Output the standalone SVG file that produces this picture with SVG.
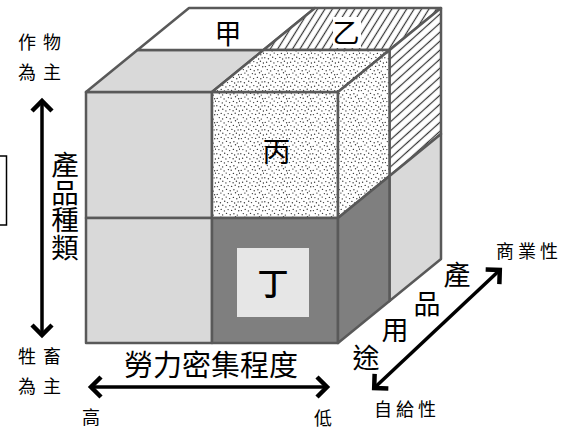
<svg xmlns="http://www.w3.org/2000/svg" width="579" height="430" viewBox="0 0 579 430">
<style>
  .cell { stroke: #595959; stroke-width: 2.5; stroke-linejoin: round; }
  .lg { fill: #d9d9d9; }
  .dg { fill: #7f7f7f; }
  .wh { fill: #ffffff; }
  .dot { fill: url(#dots); }
  .htop { fill: url(#hatchTop); }
  .hside { fill: url(#hatchSide); }
  .t { font-family: "Noto Sans CJK TC", "Noto Sans CJK SC", sans-serif; fill: #000; text-anchor: middle; }
  .big { font-size: 27px; }
  .vert { font-size: 27.5px; writing-mode: vertical-rl; text-anchor: start; }
  .small { font-size: 18px; }
  .axis { stroke: #000; stroke-width: 3.5; fill: none; marker-start: url(#chev); marker-end: url(#chev); }
</style>
<defs>
  <pattern id="dots" patternUnits="userSpaceOnUse" width="24" height="24">
    <rect width="24" height="24" fill="#ffffff"/>
    <path stroke="#3a3a3a" stroke-width="1.4" stroke-linecap="round" fill="none" d="M1.2 2.4h.01M4.9 1.1h.01M8.1 2.9h.01M12.4 1.6h.01M15.2 2.2h.01M19.5 0.8h.01M22.6 2.7h.01M2.9 5.6h.01M6.3 6.9h.01M10.2 5.1h.01M13.6 6.6h.01M17.4 5.4h.01M20.8 6.8h.01M23.6 5.2h.01M0.8 9.7h.01M4.4 10.8h.01M8.7 9.2h.01M11.5 10.6h.01M15.9 9.4h.01M18.6 11h.01M22.1 9.9h.01M2.6 14.3h.01M6.8 13.2h.01M9.9 14.9h.01M13.8 13.6h.01M17.1 14.7h.01M20.4 13.3h.01M23.4 15h.01M1.4 18.6h.01M5.2 17.4h.01M8.4 18.9h.01M12.1 17.6h.01M15.6 18.4h.01M19.2 17.2h.01M22.7 18.7h.01M3.3 21.6h.01M6.6 22.9h.01M10.5 21.4h.01M14.2 22.8h.01M17.9 21.7h.01M21.3 23.1h.01"/>
  </pattern>
  <pattern id="hatchTop" patternUnits="userSpaceOnUse" width="10" height="6.3" patternTransform="rotate(-58)">
    <rect width="10" height="6.3" fill="#ffffff"/>
    <line x1="-1" y1="3.15" x2="11" y2="3.15" stroke="#333" stroke-width="1.2"/>
  </pattern>
  <pattern id="hatchSide" patternUnits="userSpaceOnUse" width="10" height="6.7" patternTransform="rotate(-42)">
    <rect width="10" height="6.7" fill="#ffffff"/>
    <line x1="-1" y1="3.35" x2="11" y2="3.35" stroke="#333" stroke-width="1.2"/>
  </pattern>
  <marker id="chev" markerUnits="userSpaceOnUse" viewBox="-14 -13 20 26" markerWidth="20" markerHeight="26" refX="0" refY="0" orient="auto-start-reverse" style="overflow:visible">
    <path d="M-10,-10 L0,0 L-10,10" fill="none" stroke="#000" stroke-width="4.5" stroke-linejoin="miter"/>
  </marker>
</defs>

<rect width="579" height="430" fill="#ffffff"/>

<g id="clipped-box">
  <rect x="-10" y="156" width="16.5" height="69" fill="none" stroke="#000" stroke-width="1.5"/>
</g>

<g id="cube">
  <g id="front-top-left">
    <rect class="cell lg" x="86" y="92" width="126" height="126"/>
    <polygon class="cell lg" points="86,92 212,92 263.5,50 137.5,50"/>
  </g>
  <g id="block-jia">
    <polygon class="cell wh" points="137.5,50 263.5,50 315,8 189,8"/>
    <text class="t big" x="228" y="44" font-size="26">甲</text>
  </g>
  <g id="block-yi">
    <polygon class="cell htop" points="263.5,50 389.5,50 441,8 315,8"/>
    <polygon class="cell hside" points="389.5,50 441,8 441,134 389.5,176"/>
    <rect x="333" y="17" width="28" height="31" fill="#ffffff"/>
    <text class="t big" x="346" y="43" font-size="26">乙</text>
  </g>
  <g id="block-bing">
    <rect class="cell dot" x="212" y="92" width="126" height="126"/>
    <polygon class="cell dot" points="212,92 338,92 389.5,50 263.5,50"/>
    <polygon class="cell dot" points="338,92 389.5,50 389.5,176 338,218"/>
    <text class="t" x="276.5" y="162" font-size="28">丙</text>
  </g>
  <g id="back-bottom-right">
    <polygon class="cell lg" points="389.5,176 441,134 441,259 389.5,301"/>
  </g>
  <g id="front-bottom-left">
    <rect class="cell lg" x="86" y="218" width="126" height="125"/>
  </g>
  <g id="block-ding">
    <rect class="cell dg" x="212" y="218" width="126" height="125"/>
    <polygon class="cell dg" points="338,218 389.5,176 389.5,301 338,343"/>
    <rect x="237" y="248" width="72" height="69" fill="#e6e6e6"/>
    <text class="t" x="273" y="295" font-size="31" font-weight="500">丁</text>
  </g>
</g>

<g id="connectors">
  <line class="axis" x1="42" y1="335" x2="42" y2="101"/>
  <line class="axis" x1="91" y1="387" x2="327" y2="387"/>
  <line class="axis" x1="374.2" y1="388" x2="499.8" y2="270"/>
</g>

<g id="label-vertical-axis">
  <text class="t vert" x="65" y="151">產品種類</text>
  <text class="t small" x="27 52" y="49">作物</text>
  <text class="t small" x="27 52" y="79">為主</text>
  <text class="t small" x="27 52" y="363">牲畜</text>
  <text class="t small" x="27 52" y="393">為主</text>
</g>

<g id="label-horizontal-axis">
  <text class="t" x="211" y="376" font-size="29">勞力密集程度</text>
  <text class="t" x="91" y="424" font-size="18">高</text>
  <text class="t" x="323" y="425" font-size="18">低</text>
</g>

<g id="label-diagonal-axis">
  <text class="t big"><tspan x="457" y="285">產</tspan><tspan x="427" y="314">品</tspan><tspan x="395" y="340">用</tspan><tspan x="366" y="368">途</tspan></text>
  <text class="t small" x="505 527 549" y="258">商業性</text>
  <text class="t small" x="383 405 427" y="416">自給性</text>
</g>
</svg>
